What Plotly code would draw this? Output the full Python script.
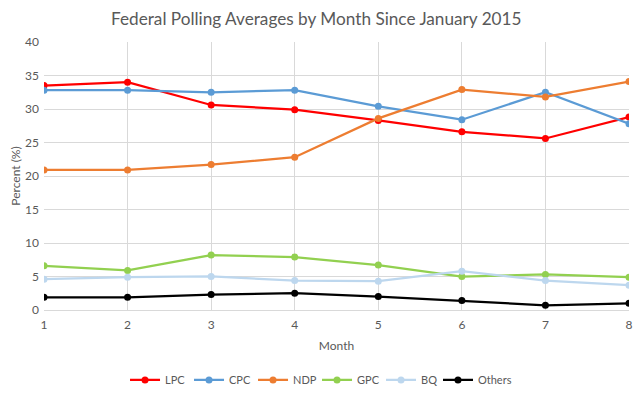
import plotly.graph_objects as go

months = [1, 2, 3, 4, 5, 6, 7, 8]
series_names = ["LPC", "CPC", "NDP", "GPC", "BQ", "Others"]
lpc = [33.5, 34.0, 30.6, 29.9, 28.3, 26.6, 25.6, 28.8]
cpc = [32.8, 32.8, 32.5, 32.8, 30.4, 28.4, 32.5, 27.8]
ndp = [20.9, 20.9, 21.7, 22.8, 28.6, 32.9, 31.8, 34.1]
gpc = [6.6, 5.9, 8.2, 7.9, 6.7, 5.0, 5.3, 4.9]
bq = [4.6, 4.9, 5.0, 4.4, 4.3, 5.8, 4.4, 3.7]
others = [1.9, 1.9, 2.3, 2.5, 2.0, 1.4, 0.7, 1.0]
colors = ["#ff0000", "#5b9bd5", "#ed7d31", "#92d050", "#bdd7ee", "#000000"]

values = [lpc, cpc, ndp, gpc, bq, others]

FONT = "Lato, Open Sans, sans-serif"
# The page has an 8px body margin, so the figure is sized to fit the window.
W, H = 633, 386
fig = go.Figure()
for i, (name, vals, col) in enumerate(zip(series_names, values, colors)):
    fig.add_trace(go.Scatter(
        x=months, y=vals, name=name, mode="lines+markers",
        line=dict(color=col, width=2.25),
        marker=dict(color=col, size=7),
        legend="legend2" if i == len(series_names) - 1 else "legend",
    ))

legend_common = dict(orientation="h", y=-0.261, yanchor="middle", xanchor="left",
                     font=dict(size=11, color="#595959"), itemwidth=30,
                     bgcolor="rgba(0,0,0,0)")

fig.update_layout(
    width=W, height=H,
    paper_bgcolor="white", plot_bgcolor="white",
    margin=dict(l=36, r=12, t=34, b=84, autoexpand=False),
    title=dict(text="Federal Polling Averages by Month Since January 2015",
               x=0.487, xanchor="center", y=1 - 11 / H, yanchor="middle",
               font=dict(family=FONT, size=17.2, color="#595959")),
    font=dict(family=FONT, color="#595959", size=12),
    xaxis=dict(range=[1, 8], dtick=1, showgrid=True, gridcolor="#d9d9d9",
               gridwidth=1, zeroline=False, showline=True, linecolor="#d9d9d9",
               ticks="", ticklabelstandoff=4, automargin=False,
               tickfont=dict(size=12, color="#595959"),
               title=dict(text="Month", font=dict(size=12, color="#595959"), standoff=10)),
    yaxis=dict(range=[0, 40], dtick=5, showgrid=True, gridcolor="#d9d9d9",
               gridwidth=1, zeroline=False, showline=False, automargin=False,
               ticks="", ticklabelstandoff=4,
               tickfont=dict(size=12, color="#595959"),
               title=dict(text="Percent (%)", font=dict(size=12, color="#595959"), standoff=10)),
    legend=dict(x=0.1385, entrywidth=19, entrywidthmode="pixels", **legend_common),
    legend2=dict(x=0.6735, **legend_common),
)

fig.write_html("out.html")
